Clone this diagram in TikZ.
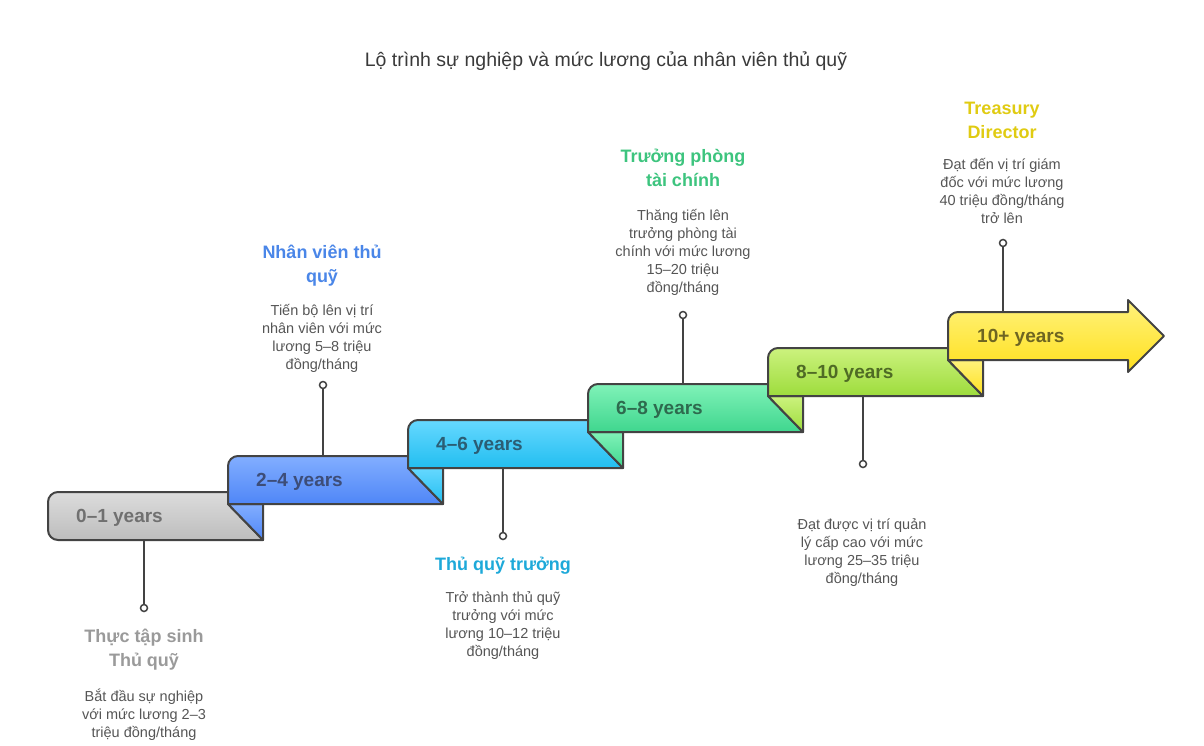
\documentclass[tikz,border=0pt]{standalone}
\usepackage{fontspec}
\setmainfont{Liberation Sans}
\usepackage{xcolor}

\definecolor{edge}{HTML}{434343}
\definecolor{desctext}{HTML}{555555}
\definecolor{headtext}{HTML}{3A3A3A}
\definecolor{grayA}{HTML}{DCDCDC}
\definecolor{grayB}{HTML}{BDBDBD}
\definecolor{blueA}{HTML}{82AEFF}
\definecolor{blueB}{HTML}{4F86F7}
\definecolor{cyanA}{HTML}{66D8FF}
\definecolor{cyanB}{HTML}{22BEF0}
\definecolor{greenA}{HTML}{80F2B8}
\definecolor{greenB}{HTML}{3FD68E}
\definecolor{limeA}{HTML}{CCF27E}
\definecolor{limeB}{HTML}{9DDC3C}
\definecolor{yellowA}{HTML}{FFF27C}
\definecolor{yellowB}{HTML}{FFE01E}
\definecolor{grayT}{HTML}{707070}
\definecolor{blueT}{HTML}{3D4D78}
\definecolor{cyanT}{HTML}{2B5D74}
\definecolor{greenT}{HTML}{2E6A4E}
\definecolor{limeT}{HTML}{4F6B25}
\definecolor{yellowT}{HTML}{6E6522}
\definecolor{grayH}{HTML}{9A9A9A}
\definecolor{blueH}{HTML}{4A86E8}
\definecolor{cyanH}{HTML}{1EA9D9}
\definecolor{greenH}{HTML}{3DC47E}
\definecolor{yellowH}{HTML}{E0CB12}

\tikzset{
  stepbox/.style={draw=edge, line width=2pt, line join=round},
  steplabel/.style={font=\fontsize{19}{22}\selectfont\bfseries, anchor=west, inner sep=0pt},
  roletitle/.style={font=\fontsize{18}{24}\selectfont\bfseries, align=center, anchor=base, inner sep=0pt},
  roledesc/.style={font=\fontsize{14.5}{18}\selectfont, text=desctext, align=center, anchor=base, inner sep=0pt},
  knob/.style={circle, draw=edge, fill=white, line width=1.5pt, minimum size=7pt, inner sep=0pt},
  stemline/.style={draw=edge, line width=2pt},
}

\begin{document}
\begin{tikzpicture}[x=1pt,y=-1pt]
\useasboundingbox (0,0) rectangle (1204,745);

\node[font=\fontsize{19.5}{22}\selectfont, text=headtext, anchor=base] (heading) at (606,66) {Lộ trình sự nghiệp và mức lương của nhân viên thủ quỹ};

% stems first, the steps cover their ends
\coordinate (intern-foot) at (144,540);
\coordinate (clerk-foot) at (323,456);
\coordinate (chief-foot) at (503,468);
\coordinate (head-foot) at (683,384);
\coordinate (senior-foot) at (863,396);
\coordinate (director-foot) at (1003,312);
\node[knob] (intern-dot) at (144,608) {};
\node[knob] (clerk-dot) at (323,385) {};
\node[knob] (chief-dot) at (503,536) {};
\node[knob] (head-dot) at (683,315) {};
\node[knob] (senior-dot) at (863,464) {};
\node[knob] (director-dot) at (1003,243) {};
\draw[stemline] (intern-foot) -- (intern-dot);
\draw[stemline] (clerk-foot) -- (clerk-dot);
\draw[stemline] (chief-foot) -- (chief-dot);
\draw[stemline] (head-foot) -- (head-dot);
\draw[stemline] (senior-foot) -- (senior-dot);
\draw[stemline] (director-foot) -- (director-dot);

% 0-1
\draw[stepbox, top color=grayA, bottom color=grayB] (48,516) [rounded corners=10] -- (48,492) -- (150,492) [sharp corners] -- (228,492) -- (228,504) -- (263,540) -- (120,540) [rounded corners=10] -- (48,540) -- cycle;
% 2-4
\draw[stepbox, top color=blueA, bottom color=blueB] (228,504) -- (263,504) -- (263,540) -- cycle;
\draw[stepbox, top color=blueA, bottom color=blueB] (228,480) [rounded corners=10] -- (228,456) -- (318,456) [sharp corners] -- (408,456) -- (408,468) -- (443,504) -- (228,504) -- cycle;
% 4-6
\draw[stepbox, top color=cyanA, bottom color=cyanB] (408,468) -- (443,468) -- (443,504) -- cycle;
\draw[stepbox, top color=cyanA, bottom color=cyanB] (408,444) [rounded corners=10] -- (408,420) -- (498,420) [sharp corners] -- (588,420) -- (588,432) -- (623,468) -- (408,468) -- cycle;
% 6-8
\draw[stepbox, top color=greenA, bottom color=greenB] (588,432) -- (623,432) -- (623,468) -- cycle;
\draw[stepbox, top color=greenA, bottom color=greenB] (588,408) [rounded corners=10] -- (588,384) -- (678,384) [sharp corners] -- (768,384) -- (768,396) -- (803,432) -- (588,432) -- cycle;
% 8-10
\draw[stepbox, top color=limeA, bottom color=limeB] (768,396) -- (803,396) -- (803,432) -- cycle;
\draw[stepbox, top color=limeA, bottom color=limeB] (768,372) [rounded corners=10] -- (768,348) -- (858,348) [sharp corners] -- (948,348) -- (948,360) -- (983,396) -- (768,396) -- cycle;
% 10+
\draw[stepbox, top color=yellowA, bottom color=yellowB] (948,360) -- (983,360) -- (983,396) -- cycle;
\draw[stepbox, top color=yellowA, bottom color=yellowB] (948,336) [rounded corners=10] -- (948,312) -- (1040,312) [sharp corners] -- (1128,312) -- (1128,300) -- (1164,336) -- (1128,372) -- (1128,360) -- (948,360) -- cycle;

\node[steplabel, text=grayT] (intern) at (76,518) {0–1 years};
\node[steplabel, text=blueT] (clerk) at (256,482) {2–4 years};
\node[steplabel, text=cyanT] (chief) at (436,446) {4–6 years};
\node[steplabel, text=greenT] (head) at (616,410) {6–8 years};
\node[steplabel, text=limeT] (senior) at (796,374) {8–10 years};
\node[steplabel, text=yellowT] (director) at (977,338) {10+ years};

% roles (base = last line)
\node[roletitle, text=grayH] (intern-title) at (144,666) {Thực tập sinh\\Thủ quỹ};
\node[roledesc] (intern-desc) at (144,737) {Bắt đầu sự nghiệp\\với mức lương 2–3\\triệu đồng/tháng};
\node[roletitle, text=blueH] (clerk-title) at (322,282) {Nhân viên thủ\\quỹ};
\node[roledesc] (clerk-desc) at (322,369) {Tiến bộ lên vị trí\\nhân viên với mức\\lương 5–8 triệu\\đồng/tháng};
\node[roletitle, text=cyanH] (chief-title) at (503,570) {Thủ quỹ trưởng};
\node[roledesc] (chief-desc) at (503,656) {Trở thành thủ quỹ\\trưởng với mức\\lương 10–12 triệu\\đồng/tháng};
\node[roletitle, text=greenH] (head-title) at (683,186) {Trưởng phòng\\tài chính};
\node[roledesc] (head-desc) at (683,292) {Thăng tiến lên\\trưởng phòng tài\\chính với mức lương\\15–20 triệu\\đồng/tháng};
\node[roledesc] (senior-desc) at (862,583) {Đạt được vị trí quản\\lý cấp cao với mức\\lương 25–35 triệu\\đồng/tháng};
\node[roletitle, text=yellowH] (director-title) at (1002,138) {Treasury\\Director};
\node[roledesc] (director-desc) at (1002,223) {Đạt đến vị trí giám\\đốc với mức lương\\40 triệu đồng/tháng\\trở lên};
\end{tikzpicture}
\end{document}
